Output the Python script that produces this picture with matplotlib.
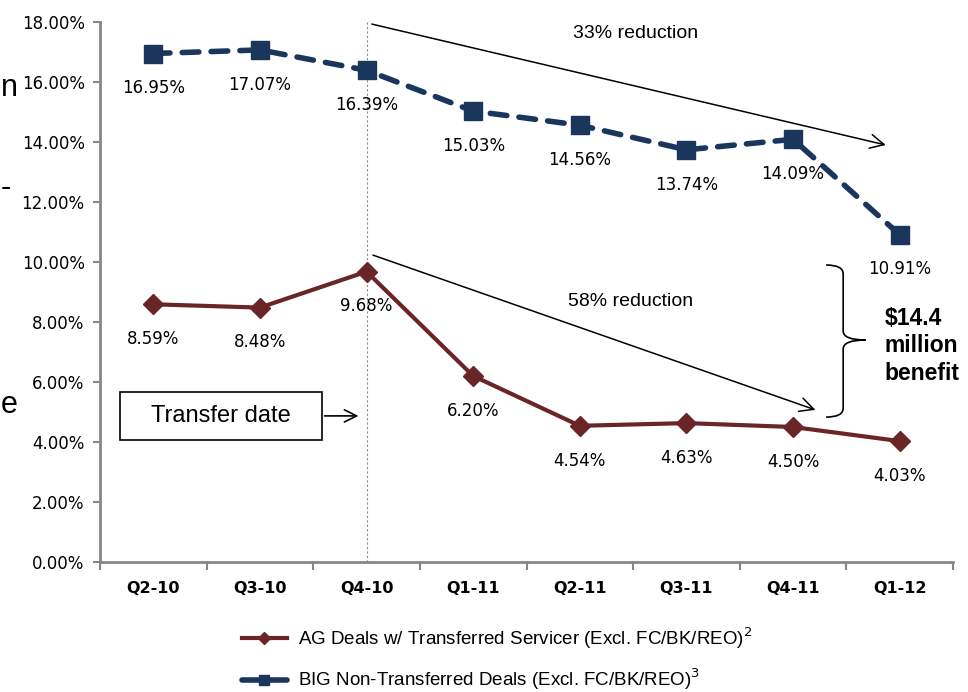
import numpy as np
import matplotlib.pyplot as plt
from matplotlib.path import Path
from matplotlib.patches import PathPatch, Rectangle

# data
quarters = ["Q2-10", "Q3-10", "Q4-10", "Q1-11", "Q2-11", "Q3-11", "Q4-11", "Q1-12"]
ag_deals = [8.59, 8.48, 9.68, 6.20, 4.54, 4.63, 4.50, 4.03]
big_deals = [16.95, 17.07, 16.39, 15.03, 14.56, 13.74, 14.09, 10.91]
y_ticks = [0, 2, 4, 6, 8, 10, 12, 14, 16, 18]

ag_label = "AG Deals w/ Transferred Servicer (Excl. FC/BK/REO)$^{2}$"
big_label = "BIG Non-Transferred Deals (Excl. FC/BK/REO)$^{3}$"

AG_COLOR = "#6A2626"
BIG_COLOR = "#1B365D"
AXIS_GRAY = "#868686"

fig = plt.figure(figsize=(9.68, 6.92), dpi=100)
ax = fig.add_axes([100 / 968, 130 / 692, 853 / 968, 540 / 692])

x = np.arange(len(quarters))

ax.plot(x, ag_deals, color=AG_COLOR, lw=3, marker="D", markersize=10,
        label=ag_label, zorder=3)
ax.plot(x, big_deals, color=BIG_COLOR, lw=4, linestyle=(0, (3, 2.2)),
        dash_capstyle="round", marker="s", markersize=13,
        label=big_label, zorder=3)

for xi, v in zip(x, ag_deals):
    ax.annotate(f"{v:.2f}%", (xi, v), xytext=(0, -25), textcoords="offset points",
                ha="center", va="center", fontsize=12)
for xi, v in zip(x, big_deals):
    ax.annotate(f"{v:.2f}%", (xi, v), xytext=(0, -25), textcoords="offset points",
                ha="center", va="center", fontsize=12)

# axes styling
ax.set_xlim(-0.5, len(quarters) - 0.5)
ax.set_ylim(0, 18)
ax.set_yticks(y_ticks)
ax.set_yticklabels([f"{t:.2f}%" for t in y_ticks], fontsize=12)
ax.set_xticks(x)
ax.set_xticklabels(quarters, fontsize=11.5, fontweight="bold")
ax.set_xticks(np.arange(-0.5, len(quarters)), minor=True)
ax.tick_params(axis="x", which="major", length=0, pad=14)
ax.tick_params(axis="x", which="minor", length=6, color=AXIS_GRAY, width=1.5)
ax.tick_params(axis="y", length=5, color=AXIS_GRAY, width=1.5, pad=6)
for side in ["top", "right"]:
    ax.spines[side].set_visible(False)
for side in ["left", "bottom"]:
    ax.spines[side].set_color(AXIS_GRAY)
    ax.spines[side].set_linewidth(2)

# transfer date marker
ax.axvline(2, color="#8c8c8c", lw=0.8, linestyle=(0, (2, 2)), zorder=1)
ax.add_patch(Rectangle((-0.308, 4.07), 1.888, 1.6, fill=False, edgecolor="black",
                       lw=1.2, zorder=4))
ax.text(0.636, 4.87, "Transfer date", ha="center", va="center", fontsize=17,
        family="Liberation Sans")
ax.annotate("", xy=(1.95, 4.87), xytext=(1.58, 4.87),
            arrowprops=dict(arrowstyle="->", lw=1.2, color="black", mutation_scale=22))

# reduction arrows
ax.annotate("", xy=(6.87, 13.9), xytext=(2.05, 17.93),
            arrowprops=dict(arrowstyle="->", lw=1.1, color="black", mutation_scale=25,
                            shrinkA=0, shrinkB=0), annotation_clip=False)
ax.text(4.52, 17.63, "33% reduction", ha="center", va="center", fontsize=14,
        family="Liberation Sans")
ax.annotate("", xy=(6.21, 5.07), xytext=(2.06, 10.23),
            arrowprops=dict(arrowstyle="->", lw=1.1, color="black", mutation_scale=25,
                            shrinkA=0, shrinkB=0))
ax.text(4.48, 8.67, "58% reduction", ha="center", va="center", fontsize=14,
        family="Liberation Sans")

# brace
x0, xm, xt = 6.31, 6.47, 6.68
yt, ymid, yb = 9.9, 7.4, 4.83
verts = [(x0, yt), (xm, yt), (xm, yt - 0.3),
         (xm, ymid + 0.3),
         (xm, ymid), (xt, ymid),
         (xm, ymid), (xm, ymid - 0.3),
         (xm, yb + 0.3),
         (xm, yb), (x0, yb)]
codes = [Path.MOVETO, Path.CURVE3, Path.CURVE3,
         Path.LINETO,
         Path.CURVE3, Path.CURVE3,
         Path.CURVE3, Path.CURVE3,
         Path.LINETO,
         Path.CURVE3, Path.CURVE3]
ax.add_patch(PathPatch(Path(verts, codes), fill=False, lw=1.2, edgecolor="black",
                       clip_on=False))
ax.text(6.86, 7.2, "$14.4\nmillion\nbenefit", ha="left", va="center", fontsize=16.5,
        fontweight="bold", family="Liberation Sans", linespacing=1.25, clip_on=False)

# text fragments at the left edge
for ch, ypx in [("n", 88), ("-", 188), ("e", 405)]:
    fig.text(1 / 968, 1 - ypx / 692, ch, ha="left", va="center", fontsize=22,
             family="Liberation Sans")

fig.legend(loc="upper left", bbox_to_anchor=(234 / 968, 1 - 618 / 692), frameon=False,
           prop={"family": "Liberation Sans", "size": 13.5}, handlelength=2.4,
           handletextpad=0.6, labelspacing=0.85, borderaxespad=0, markerscale=0.6)

fig.savefig("out.png", dpi=100)
